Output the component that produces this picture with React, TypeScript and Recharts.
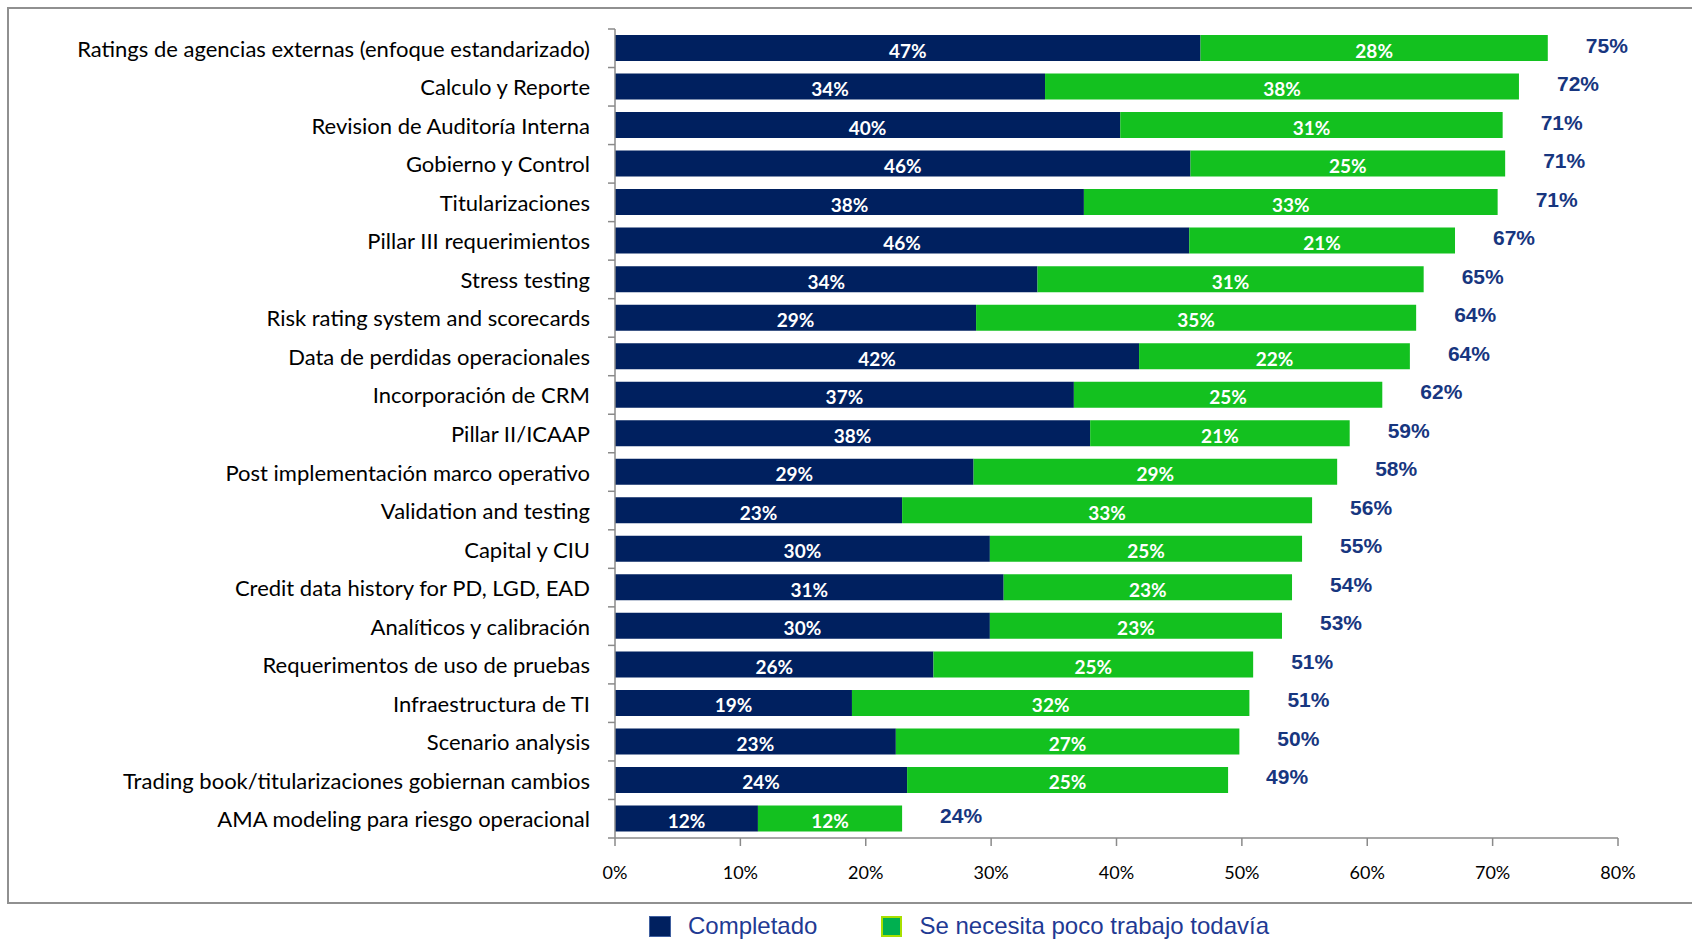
import React from "react";
import { BarChart, Bar, XAxis, YAxis, LabelList } from "recharts";

const categories = [
  "Ratings de agencias externas (enfoque estandarizado)",
  "Calculo y Reporte",
  "Revision de Auditoría Interna",
  "Gobierno y Control",
  "Titularizaciones",
  "Pillar III requerimientos",
  "Stress testing",
  "Risk rating system and scorecards",
  "Data de perdidas operacionales",
  "Incorporación de CRM",
  "Pillar II/ICAAP",
  "Post implementación marco operativo",
  "Validation and testing",
  "Capital y  CIU",
  "Credit data history for PD, LGD, EAD",
  "Analíticos y calibración",
  "Requerimentos de uso de pruebas",
  "Infraestructura de TI",
  "Scenario analysis",
  "Trading book/titularizaciones gobiernan cambios",
  "AMA modeling para riesgo operacional",
];

// bar lengths (%)
const completado = [46.7, 34.3, 40.3, 45.9, 37.4, 45.8, 33.7, 28.8, 41.8, 36.6, 37.9, 28.6, 22.9, 29.9, 31.0, 29.9, 25.4, 18.9, 22.4, 23.3, 11.4];
const pocoTrabajo = [27.7, 37.8, 30.5, 25.1, 33.0, 21.2, 30.8, 35.1, 21.6, 24.6, 20.7, 29.0, 32.7, 24.9, 23.0, 23.3, 25.5, 31.7, 27.4, 25.6, 11.5];

// printed labels
const completadoLabels = [47, 34, 40, 46, 38, 46, 34, 29, 42, 37, 38, 29, 23, 30, 31, 30, 26, 19, 23, 24, 12];
const pocoLabels = [28, 38, 31, 25, 33, 21, 31, 35, 22, 25, 21, 29, 33, 25, 23, 23, 25, 32, 27, 25, 12];
const totalLabels = [75, 72, 71, 71, 71, 67, 65, 64, 64, 62, 59, 58, 56, 55, 54, 53, 51, 51, 50, 49, 24];

const xTicks = [0, 10, 20, 30, 40, 50, 60, 70, 80];

const data = categories.map((name, i) => ({
  name,
  completado: completado[i],
  poco: pocoTrabajo[i],
}));

const NAVY = "#00205F";
const GREEN = "#13C11F";
const AXIS = "#8a8a8a";
const LABEL_BLUE = "#17367F";

const PLOT_LEFT = 615;
const PLOT_TOP = 29;
const PLOT_BOTTOM = 838;
const BAND = (PLOT_BOTTOM - PLOT_TOP) / categories.length;

function CategoryTick(props: any) {
  const { y, payload } = props;
  const index = props.index ?? payload.index;
  return (
    <g>
      <line x1={PLOT_LEFT - 7} x2={PLOT_LEFT} y1={y - BAND / 2} y2={y - BAND / 2} stroke={AXIS} strokeWidth={1.5} />
      {index === categories.length - 1 && (
        <line x1={PLOT_LEFT - 7} x2={PLOT_LEFT} y1={y + BAND / 2} y2={y + BAND / 2} stroke={AXIS} strokeWidth={1.5} />
      )}
      <text
        x={PLOT_LEFT - 25}
        y={y}
        textAnchor="end"
        dominantBaseline="central"
        fontFamily="Lato"
        fontSize={22}
        fill="#000"
      >
        {payload.value}
      </text>
    </g>
  );
}

function InnerLabel(labels: number[]) {
  return (props: any) => {
    const { x, y, width, height, index } = props;
    return (
      <text
        x={x + width / 2}
        y={y + height / 2 + 2}
        textAnchor="middle"
        dominantBaseline="central"
        fontFamily="Lato"
        fontWeight="bold"
        fontSize={19}
        fill="#fff"
      >
        {labels[index]}%
      </text>
    );
  };
}

function TotalLabel(props: any) {
  const { x, y, width, height, index } = props;
  return (
    <text
      x={x + width + 38}
      y={y + height / 2 - 3}
      textAnchor="start"
      dominantBaseline="central"
      fontFamily="Liberation Sans"
      fontWeight="bold"
      fontSize={21}
      fill={LABEL_BLUE}
    >
      {totalLabels[index]}%
    </text>
  );
}

export default function App() {
  return (
    <div
      style={{
        position: "fixed",
        left: 0,
        top: 0,
        width: 1692,
        height: 939,
        overflow: "hidden",
        background: "#fff",
      }}
    >
      <div
        style={{
          position: "absolute",
          left: 7,
          top: 7,
          width: 1720,
          height: 893,
          border: "2px solid #909090",
        }}
      />
      <div style={{ position: "absolute", left: 0, top: 0 }}>
        <BarChart
          width={1692}
          height={939}
          data={data}
          layout="vertical"
          margin={{ top: PLOT_TOP, right: 74, left: 0, bottom: 939 - PLOT_BOTTOM - 60 }}
          barSize={26}
        >
          <XAxis
            type="number"
            domain={[0, 80]}
            ticks={xTicks}
            interval={0}
            tickFormatter={(v) => `${v}%`}
            height={60}
            axisLine={{ stroke: AXIS, strokeWidth: 1.5 }}
            tickLine={{ stroke: AXIS, strokeWidth: 1.5 }}
            tickSize={8}
            tickMargin={20}
            tick={{ fontFamily: "Lato", fontSize: 18, fill: "#000" }}
          />
          <YAxis
            type="category"
            dataKey="name"
            width={PLOT_LEFT}
            interval={0}
            axisLine={{ stroke: AXIS, strokeWidth: 1.5 }}
            tickLine={false}
            tick={<CategoryTick />}
          />
          <Bar dataKey="completado" stackId="a" fill={NAVY} isAnimationActive={false}>
            <LabelList dataKey="completado" content={InnerLabel(completadoLabels)} />
          </Bar>
          <Bar dataKey="poco" stackId="a" fill={GREEN} isAnimationActive={false}>
            <LabelList dataKey="poco" content={InnerLabel(pocoLabels)} />
            <LabelList dataKey="poco" content={TotalLabel} />
          </Bar>
        </BarChart>
      </div>
      <div
        style={{
          position: "absolute",
          left: 649,
          top: 912,
          height: 28,
          display: "flex",
          alignItems: "center",
          fontFamily: "Liberation Sans",
          fontSize: 24,
          color: "#1F3A93",
          whiteSpace: "nowrap",
        }}
      >
        <span style={{ width: 22, height: 21, background: NAVY, border: "1px solid #4060a0", boxSizing: "border-box", display: "inline-block" }} />
        <span style={{ marginLeft: 17 }}>Completado</span>
        <span
          style={{
            marginLeft: 64,
            width: 21,
            height: 21,
            background: "#00B050",
            border: "2px solid #a8e000",
            boxSizing: "border-box",
            display: "inline-block",
          }}
        />
        <span style={{ marginLeft: 17 }}>Se necesita poco trabajo todavía</span>
      </div>
    </div>
  );
}
